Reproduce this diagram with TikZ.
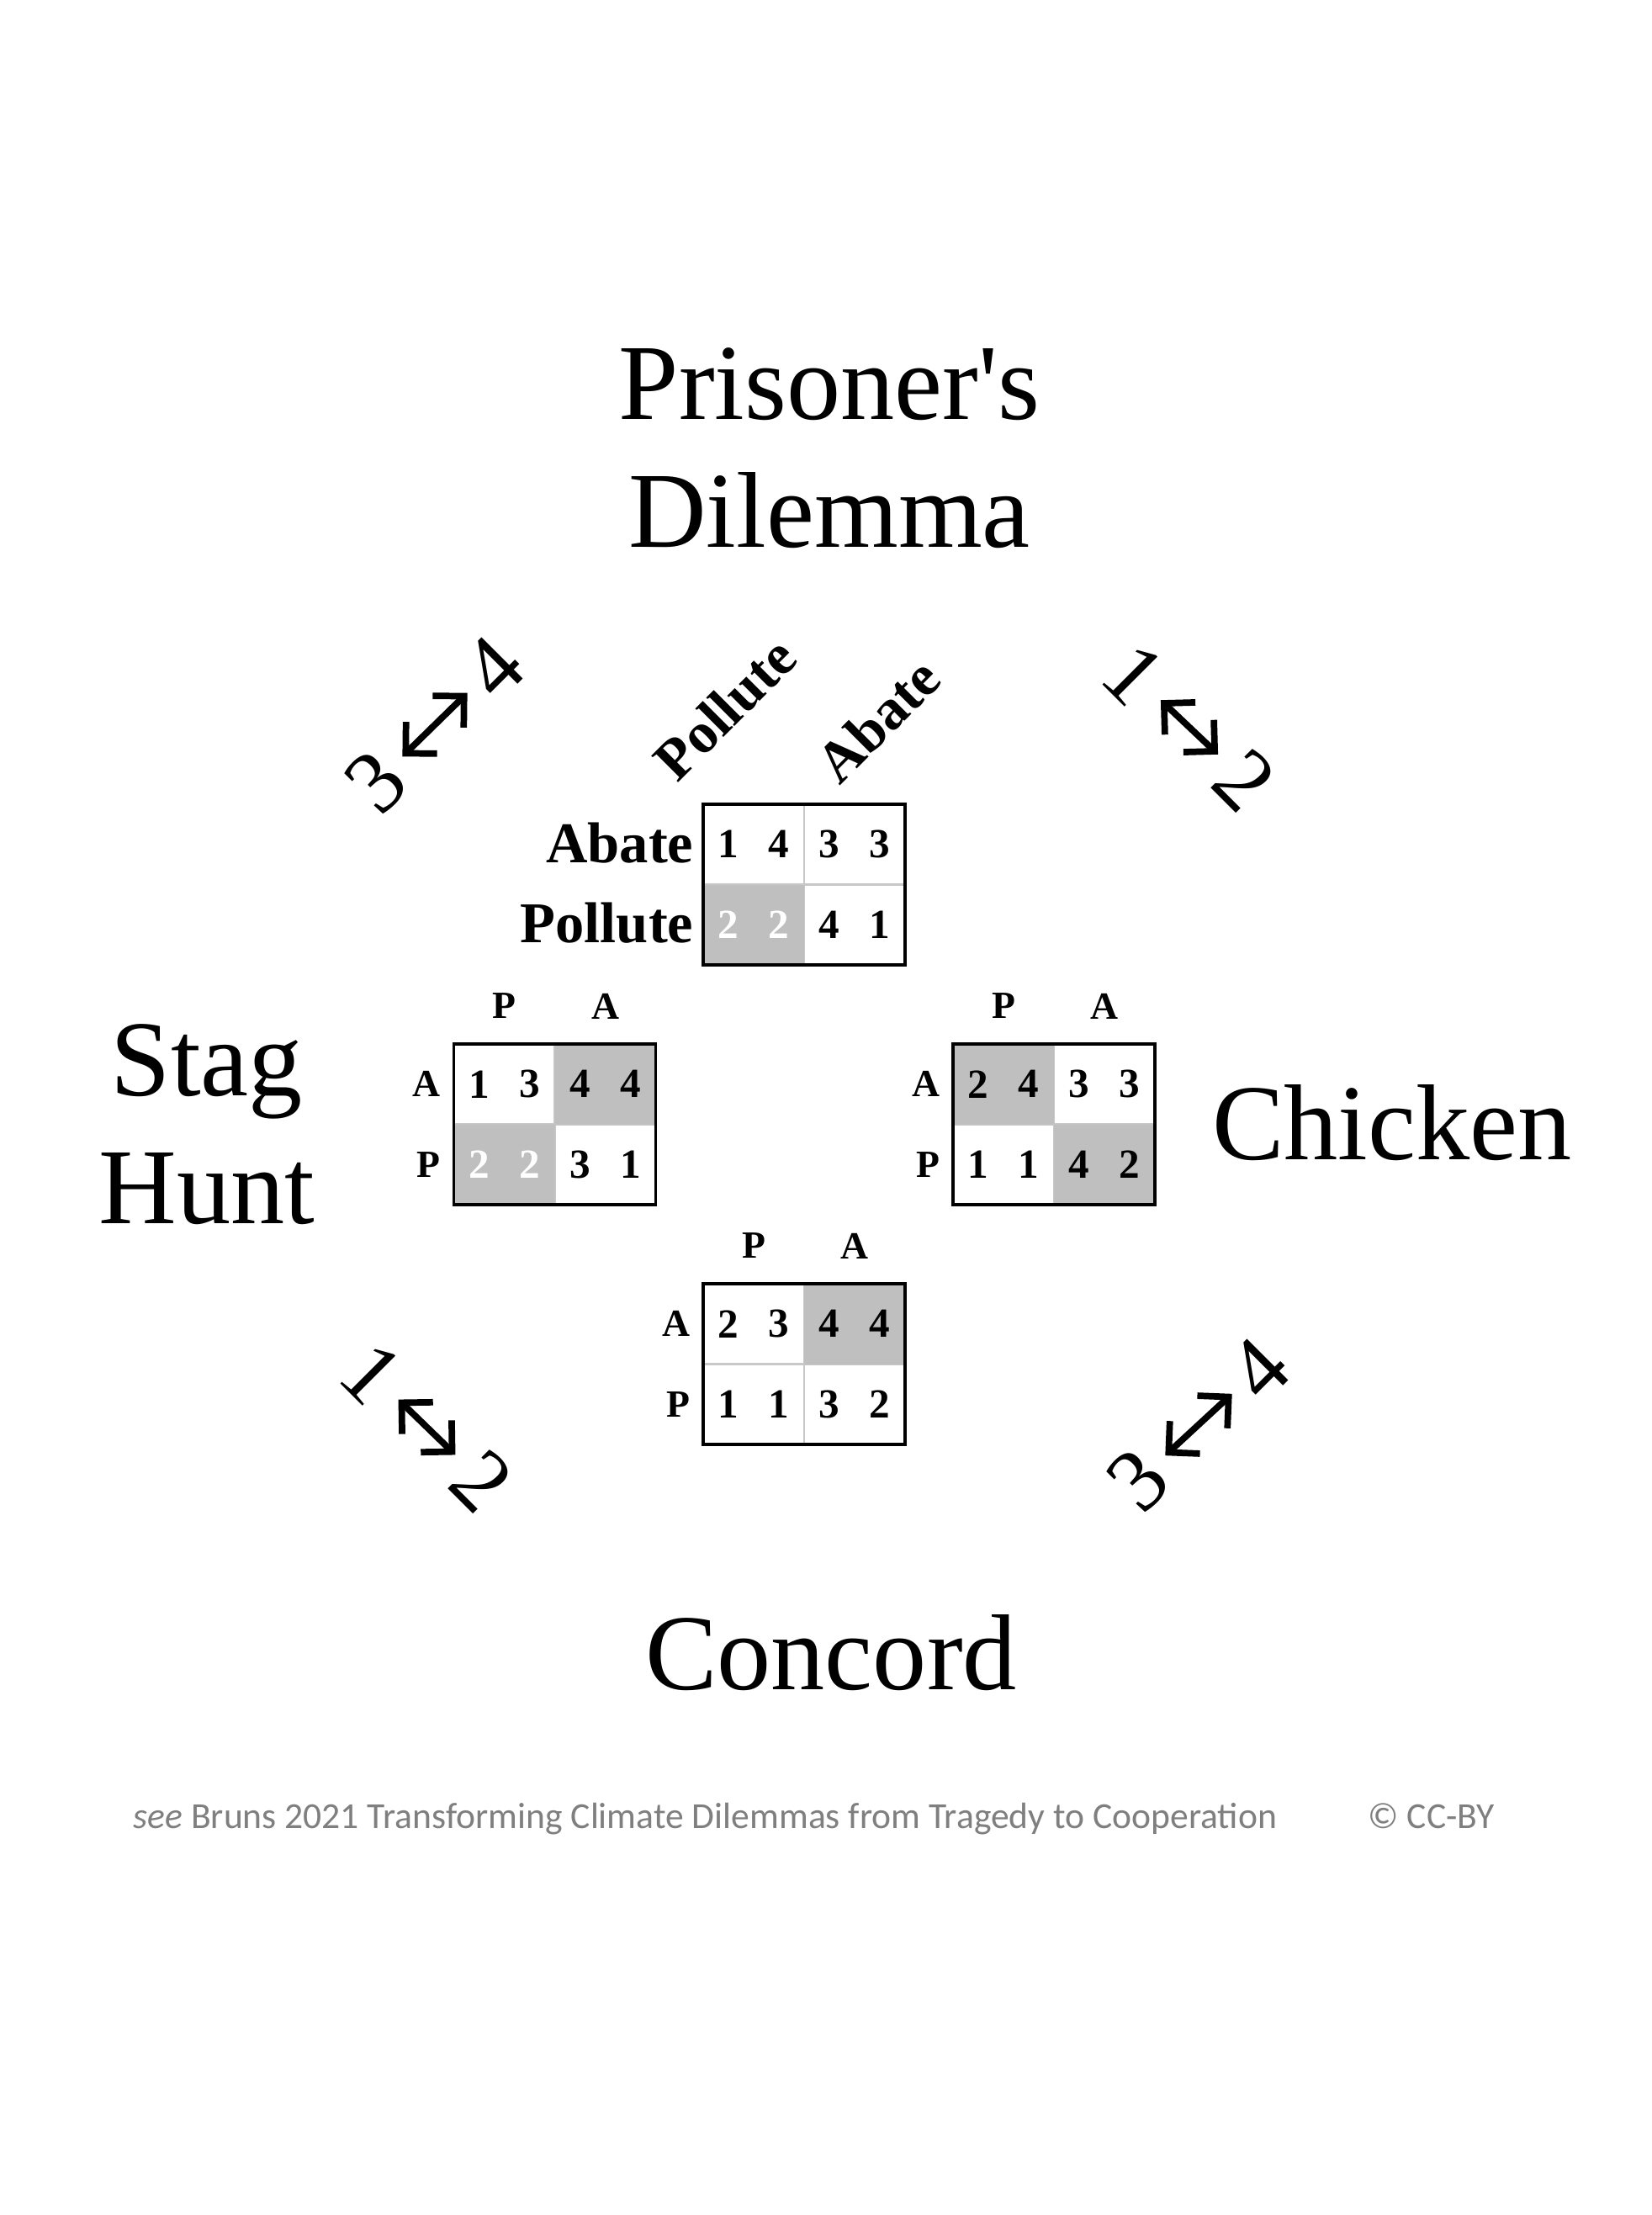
\documentclass[tikz,border=0pt]{standalone}
\usepackage{fontspec}
\setmainfont{Liberation Serif}
\newfontfamily\notefont{Carlito}
\usetikzlibrary{arrows.meta}
\definecolor{cellgray}{HTML}{BFBFBF}
\definecolor{linegray}{HTML}{C8C8C8}
\definecolor{notegray}{HTML}{7F7F7F}
\newcommand\gtitle{\fontsize{36.5}{43.2}\selectfont}
\newcommand\gswap{\fontsize{30}{34}\selectfont}
\newcommand\ghead{\bfseries\fontsize{19.5}{23}\selectfont}
\newcommand\gmove{\bfseries\fontsize{13}{15}\selectfont}
\newcommand\gpay{\bfseries\fontsize{14}{16}\selectfont}
\newcommand\gnote{\notefont\fontsize{12.4}{15}\selectfont}
\tikzset{
  paybox/.style={draw,line width=0.9pt,minimum width=2.4cm,minimum height=1.91cm,inner sep=0pt},
  cellline/.style={linegray,line width=0.7pt},
  payoff/.style={font=\gpay,inner sep=0pt},
  movelab/.style={font=\gmove,inner sep=0pt},
  headlab/.style={font=\ghead,inner sep=0pt},
  gamelab/.style={font=\gtitle,align=center,inner sep=0pt},
  notelab/.style={font=\gnote,text=notegray,inner sep=0pt},
  swapnum/.style={font=\gswap,inner sep=0pt,outer xsep=5pt},
  swaparrow/.style={line width=2.2pt,{Straight Barb[length=7.5pt,width=15pt]}-{Straight Barb[length=7.5pt,width=15pt]}},
}
\begin{document}
\begin{tikzpicture}
    \useasboundingbox (0,0) rectangle (19.64,-26.33);
    \fill[white] (0,0) rectangle (19.64,-26.33);

    \node[gamelab,anchor=base] (pd-name) at (9.86,-6.50) {Prisoner\textquotesingle s\\Dilemma};
    \node[gamelab,anchor=base] (sh-name) at (2.46,-14.54) {Stag\\Hunt};
    \node[gamelab,anchor=base] (ch-name) at (16.55,-13.78) {Chicken};
    \node[gamelab,anchor=base] (cc-name) at (9.88,-20.08) {Concord};

    \begin{scope}[shift={(9.56,-10.515)}]
        \draw[cellline] (-1.2,0) -- (1.2,0) (0,-0.955) -- (0,0.955);
        \fill[cellgray] (-1.2,-0.955) rectangle (0,0);
        \node[paybox] (pd) at (0,0) {};
        \foreach \v/\c [count=\i from 0] in {1/black,4/black,3/black,3/black,2/white,2/white,4/black,1/black}
            \node[payoff,text=\c] (pd-\i) at ({-0.9+0.6*mod(\i,4)},{0.4775-0.955*int(\i/4)}) {\v};
        \node[headlab,anchor=base east] (pd-rowa) at (-1.31,0.265) {Abate};
        \node[headlab,anchor=base east] (pd-rowp) at (-1.31,-0.685) {Pollute};
        \node[headlab,anchor=base west,rotate=45] (pd-colp) at (-1.51,1.195) {Pollute};
        \node[headlab,anchor=base west,rotate=45] (pd-cola) at (0.42,1.165) {Abate};
    \end{scope}

    \begin{scope}[shift={(6.595,-13.365)}]
        \draw[cellline] (-1.2,0) -- (1.2,0) (0,-0.955) -- (0,0.955);
        \fill[cellgray] (0,0) rectangle (1.2,0.955) (-1.2,-0.955) rectangle (0,0);
        \node[paybox] (sh) at (0,0) {};
        \foreach \v/\c [count=\i from 0] in {1/black,3/black,4/black,4/black,2/white,2/white,3/black,1/black}
            \node[payoff,text=\c] (sh-\i) at ({-0.9+0.6*mod(\i,4)},{0.4775-0.955*int(\i/4)}) {\v};
        \node[movelab] (sh-colp) at (-0.6,1.405) {P};
        \node[movelab] (sh-cola) at (0.6,1.405) {A};
        \node[movelab,anchor=east] (sh-rowa) at (-1.35,0.4775) {A};
        \node[movelab,anchor=east] (sh-rowp) at (-1.35,-0.4775) {P};
    \end{scope}

    \begin{scope}[shift={(12.53,-13.365)}]
        \draw[cellline] (-1.2,0) -- (1.2,0) (0,-0.955) -- (0,0.955);
        \fill[cellgray] (-1.2,0) rectangle (0,0.955) (0,-0.955) rectangle (1.2,0);
        \node[paybox] (ch) at (0,0) {};
        \foreach \v/\c [count=\i from 0] in {2/black,4/black,3/black,3/black,1/black,1/black,4/black,2/black}
            \node[payoff,text=\c] (ch-\i) at ({-0.9+0.6*mod(\i,4)},{0.4775-0.955*int(\i/4)}) {\v};
        \node[movelab] (ch-colp) at (-0.6,1.405) {P};
        \node[movelab] (ch-cola) at (0.6,1.405) {A};
        \node[movelab,anchor=east] (ch-rowa) at (-1.35,0.4775) {A};
        \node[movelab,anchor=east] (ch-rowp) at (-1.35,-0.4775) {P};
    \end{scope}

    \begin{scope}[shift={(9.56,-16.215)}]
        \draw[cellline] (-1.2,0) -- (1.2,0) (0,-0.955) -- (0,0.955);
        \fill[cellgray] (0,0) rectangle (1.2,0.955);
        \node[paybox] (cc) at (0,0) {};
        \foreach \v/\c [count=\i from 0] in {2/black,3/black,4/black,4/black,1/black,1/black,3/black,2/black}
            \node[payoff,text=\c] (cc-\i) at ({-0.9+0.6*mod(\i,4)},{0.4775-0.955*int(\i/4)}) {\v};
        \node[movelab] (cc-colp) at (-0.6,1.405) {P};
        \node[movelab] (cc-cola) at (0.6,1.405) {A};
        \node[movelab,anchor=east] (cc-rowa) at (-1.35,0.4775) {A};
        \node[movelab,anchor=east] (cc-rowp) at (-1.35,-0.4775) {P};
    \end{scope}

    \node[swapnum,rotate=45] (tl-3) at (4.47,-9.30) {3};
    \node[swapnum,rotate=45] (tl-4) at (5.87,-7.93) {4};
    \draw[swaparrow] (tl-3) -- (tl-4);
    \node[swapnum,rotate=-45] (tr-1) at (13.48,-8.02) {1};
    \node[swapnum,rotate=-45] (tr-2) at (14.80,-9.27) {2};
    \draw[swaparrow] (tr-1) -- (tr-2);
    \node[swapnum,rotate=-45] (bl-1) at (4.42,-16.33) {1};
    \node[swapnum,rotate=-45] (bl-2) at (5.73,-17.60) {2};
    \draw[swaparrow] (bl-1) -- (bl-2);
    \node[swapnum,rotate=45] (br-3) at (13.53,-17.60) {3};
    \node[swapnum,rotate=45] (br-4) at (14.97,-16.27) {4};
    \draw[swaparrow] (br-3) -- (br-4);

    \node[notelab,anchor=base west] (source) at (1.58,-21.73) {\textit{see} Bruns 2021 Transforming Climate Dilemmas from Tragedy to Cooperation};
    \node[notelab,anchor=base west] (licence) at (16.26,-21.73) {© CC-BY};
\end{tikzpicture}
\end{document}
